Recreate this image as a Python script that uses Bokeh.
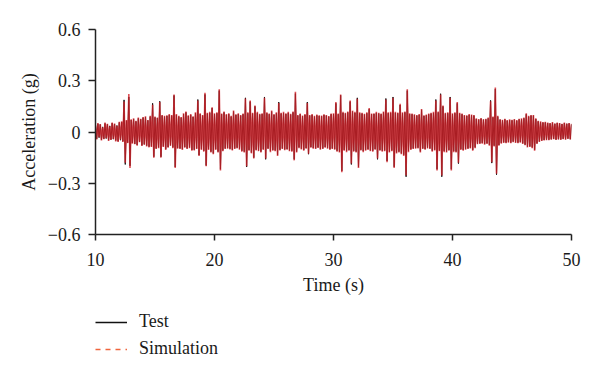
import numpy as np
from bokeh.plotting import figure
from bokeh.layouts import column
from bokeh.models import Legend, LegendItem, FixedTicker
from bokeh.embed import file_html
from bokeh.resources import INLINE

# ---- data: acceleration in thousandths of g, one sample every 0.1 s, 10 s .. 50 s ----
t_start, t_end = 10.0, 50.0

sim_mg = [38, -44, 52, -30, 47, -50, 28, -42, 55, -36,          # 10 s
          48, -52, 33, -47, 56, -40, 50, -55, 36, -58,          # 11 s
          60, -45, 62, -58, 178, -180, 70, -65, 222, -210,      # 12 s
          75, -68, 80, -72, 66, -80, 85, -60, 78, -82,          # 13 s
          88, -75, 92, -85, 70, -90, 95, -88, 160, -150,        # 14 s
          90, -100, 85, -95, 175, -150, 100, -88, 95, -105,     # 15 s
          98, -92, 105, -80, 100, -95, 220, -210, 105, -98,     # 16 s
          95, -100, 88, -105, 110, -92, 120, -100, 98, -95,     # 17 s
          105, -110, 92, -108, 115, -100, 185, -140, 110, -105, # 18 s
          100, -115, 230, -200, 112, -105, 118, -120, 145, -130,  # 19 s
          110, -105, 115, -120, 250, -225, 108, -112, 120, -100,  # 20 s
          105, -98, 110, -102, 95, -108, 126, -100, 104, -96,     # 21 s
          110, -104, 100, -115, 108, -120, 196, -200, 115, -110,  # 22 s
          185, -125, 112, -155, 155, -108, 118, -112, 106, -120,  # 23 s
          110, -105, 200, -155, 115, -100, 108, -118, 126, -110,  # 24 s
          105, -112, 115, -140, 170, -108, 112, -100, 118, -106,  # 25 s
          110, -104, 118, -112, 106, -115, 120, -166, 235, -120,  # 26 s
          100, -95, 108, -102, 96, -110, 105, -98, 170, -127,     # 27 s
          100, -92, 105, -98, 95, -100, 102, -94, 98, -104,       # 28 s
          96, -100, 104, -92, 100, -98, 94, -105, 108, -100,      # 29 s
          110, -104, 175, -115, 108, -120, 220, -235, 118, -110,  # 30 s
          112, -118, 120, -110, 185, -185, 125, -115, 118, -120,  # 31 s
          195, -210, 115, -108, 112, -118, 106, -110, 115, -105,  # 32 s
          140, -112, 108, -116, 110, -104, 118, -155, 112, -110,  # 33 s
          108, -115, 120, -112, 190, -177, 115, -120, 118, -112,  # 34 s
          200, -210, 118, -125, 114, -120, 165, -130, 115, -140,  # 35 s
          120, -255, 250, -118, 110, -105, 108, -100, 104, -98,   # 36 s
          100, -96, 105, -120, 135, -100, 98, -104, 102, -96,     # 37 s
          108, -100, 112, -115, 118, -108, 185, -225, 120, -112,  # 38 s
          220, -255, 155, -118, 112, -120, 115, -110, 200, -225,  # 39 s
          110, -118, 115, -120, 175, -180, 112, -105, 108, -110,  # 40 s
          100, -104, 98, -100, 105, -96, 102, -110, 100, -95,     # 41 s
          80, -72, 76, -70, 82, -68, 75, -74, 78, -70,            # 42 s
          85, -80, 180, -177, 90, -85, 260, -245, 95, -80,        # 43 s
          75, -68, 72, -64, 78, -66, 70, -62, 74, -65,            # 44 s
          72, -60, 76, -64, 70, -66, 78, -62, 80, -70,            # 45 s
          85, -78, 110, -90, 95, -88, 100, -95, 100, -110,        # 46 s
          80, -70, 65, -58, 62, -52, 58, -50, 60, -48,            # 47 s
          55, -48, 52, -45, 58, -42, 50, -47, 55, -44,            # 48 s
          52, -46, 48, -42, 55, -45, 50, -40, 52, -44,            # 49 s
          48]                                                     # 50 s

test_mg = [35, -40, 48, -33, 44, -46, 30, -40, 50, -38,
           45, -48, 36, -44, 52, -42, 47, -50, 38, -54,
           56, -48, 58, -55, 188, -190, 66, -62, 205, -198,
           70, -64, 76, -70, 62, -76, 80, -58, 74, -78,
           84, -72, 88, -80, 68, -86, 90, -84, 168, -145,
           86, -96, 82, -90, 180, -145, 96, -84, 90, -100,
           94, -88, 100, -78, 96, -90, 214, -205, 100, -94,
           90, -96, 84, -100, 105, -88, 115, -96, 94, -90,
           100, -105, 88, -104, 110, -96, 190, -135, 105, -100,
           96, -110, 220, -196, 108, -100, 112, -115, 140, -125,
           105, -100, 110, -115, 242, -218, 104, -108, 115, -96,
           100, -94, 105, -98, 90, -104, 120, -96, 100, -92,
           105, -100, 96, -110, 104, -115, 200, -205, 110, -105,
           178, -120, 108, -150, 150, -104, 112, -108, 102, -115,
           105, -100, 205, -160, 110, -96, 104, -112, 120, -105,
           100, -108, 110, -134, 175, -104, 108, -96, 112, -102,
           105, -100, 112, -108, 102, -110, 115, -160, 225, -115,
           96, -90, 104, -98, 92, -105, 100, -94, 175, -130,
           96, -88, 100, -94, 90, -96, 98, -90, 94, -100,
           92, -96, 100, -88, 96, -94, 90, -100, 104, -96,
           105, -100, 168, -110, 104, -115, 215, -228, 112, -105,
           108, -112, 115, -105, 178, -190, 120, -110, 112, -115,
           200, -204, 110, -104, 108, -112, 102, -105, 110, -100,
           134, -108, 104, -110, 105, -100, 112, -160, 108, -105,
           104, -110, 115, -108, 196, -170, 110, -115, 112, -108,
           205, -204, 112, -120, 110, -115, 158, -125, 110, -134,
           115, -262, 242, -112, 105, -100, 104, -96, 100, -94,
           96, -92, 100, -114, 130, -96, 94, -100, 98, -92,
           104, -96, 108, -110, 112, -104, 190, -218, 115, -108,
           224, -262, 150, -112, 108, -115, 110, -105, 205, -218,
           105, -112, 110, -115, 168, -185, 108, -100, 104, -105,
           96, -100, 94, -96, 100, -92, 98, -105, 96, -90,
           76, -68, 72, -66, 78, -64, 72, -70, 74, -66,
           80, -76, 185, -182, 86, -80, 252, -250, 90, -76,
           72, -64, 68, -60, 74, -62, 66, -58, 70, -62,
           68, -56, 72, -60, 66, -62, 74, -58, 76, -66,
           80, -74, 104, -86, 90, -84, 96, -90, 96, -104,
           76, -66, 62, -55, 58, -50, 55, -47, 56, -45,
           52, -45, 50, -42, 54, -40, 48, -44, 52, -42,
           50, -43, 46, -40, 52, -42, 48, -38, 50, -42,
           45]

x_ticks = [10, 20, 30, 40, 50]
y_ticks = [-0.6, -0.3, 0, 0.3, 0.6]
y_tick_labels = ["\u22120.6", "\u22120.3", "0", "0.3", "0.6"]
series_names = ["Test", "Simulation"]

time = np.linspace(t_start, t_end, len(sim_mg))
test = np.array(test_mg) / 1000.0
sim = np.array(sim_mg) / 1000.0

FONT = "Liberation Serif"
TXT = "#1a1a1a"

p = figure(width=590, height=304, x_range=(10, 50), y_range=(-0.6, 0.6),
           output_backend="svg", toolbar_location=None,
           min_border_left=95, min_border_right=19, min_border_top=29,
           min_border_bottom=70)
p.outline_line_color = None
p.grid.visible = False
p.background_fill_color = "white"

p.xaxis.ticker = FixedTicker(ticks=x_ticks)
p.yaxis.ticker = FixedTicker(ticks=y_ticks)
p.yaxis.major_label_overrides = {v: s for v, s in zip(y_ticks, y_tick_labels)}
p.xaxis.axis_label = "Time (s)"
p.yaxis.axis_label = "Acceleration (g)"

for ax in (p.xaxis, p.yaxis):
    ax.axis_line_color = "#222222"
    ax.axis_line_width = 1.5
    ax.major_tick_line_color = "#222222"
    ax.major_tick_line_width = 1.5
    ax.major_tick_in = 0
    ax.minor_tick_line_color = None
    ax.major_label_text_font = FONT
    ax.major_label_text_font_size = "18px"
    ax.major_label_text_color = TXT
    ax.axis_label_text_font = FONT
    ax.axis_label_text_font_size = "18px"
    ax.axis_label_text_font_style = "normal"
    ax.axis_label_text_color = TXT
p.xaxis.major_tick_out = 6
p.yaxis.major_tick_out = 7
p.xaxis.major_label_standoff = 12
p.yaxis.major_label_standoff = 8
p.xaxis.axis_label_standoff = 6
p.yaxis.axis_label_standoff = 6

p.line(time, test, line_color="#111111", line_width=1.0)
p.line(time, sim, line_color="#d42028", line_width=1.6, line_alpha=0.78)

# ---- legend strip below the chart ----
q = figure(width=590, height=66, x_range=(0, 1), y_range=(0, 1),
           x_axis_type=None, y_axis_type=None,
           output_backend="svg", toolbar_location=None,
           min_border_left=95, min_border_right=19, min_border_top=0,
           min_border_bottom=0)
q.outline_line_color = None
q.grid.visible = False

nan_pt = [np.nan]  # legend-only renderers draw nothing in the strip
r_test = q.line(nan_pt, nan_pt, line_color="#111111", line_width=1.5)
r_sim = q.line(nan_pt, nan_pt, line_color="#f0643c", line_width=1.5, line_dash="5 5")
legend = Legend(items=[LegendItem(label=series_names[0], renderers=[r_test]),
                       LegendItem(label=series_names[1], renderers=[r_sim])],
                location=(0, 11), orientation="vertical",
                border_line_color=None, background_fill_alpha=0,
                padding=0, margin=0, spacing=6,
                glyph_width=32, glyph_height=20, label_height=20,
                label_standoff=12,
                label_text_font=FONT, label_text_font_size="18px",
                label_text_color=TXT)
q.add_layout(legend, "center")

layout = column(p, q, spacing=0)
open("out.html", "w").write(file_html(layout, INLINE))
